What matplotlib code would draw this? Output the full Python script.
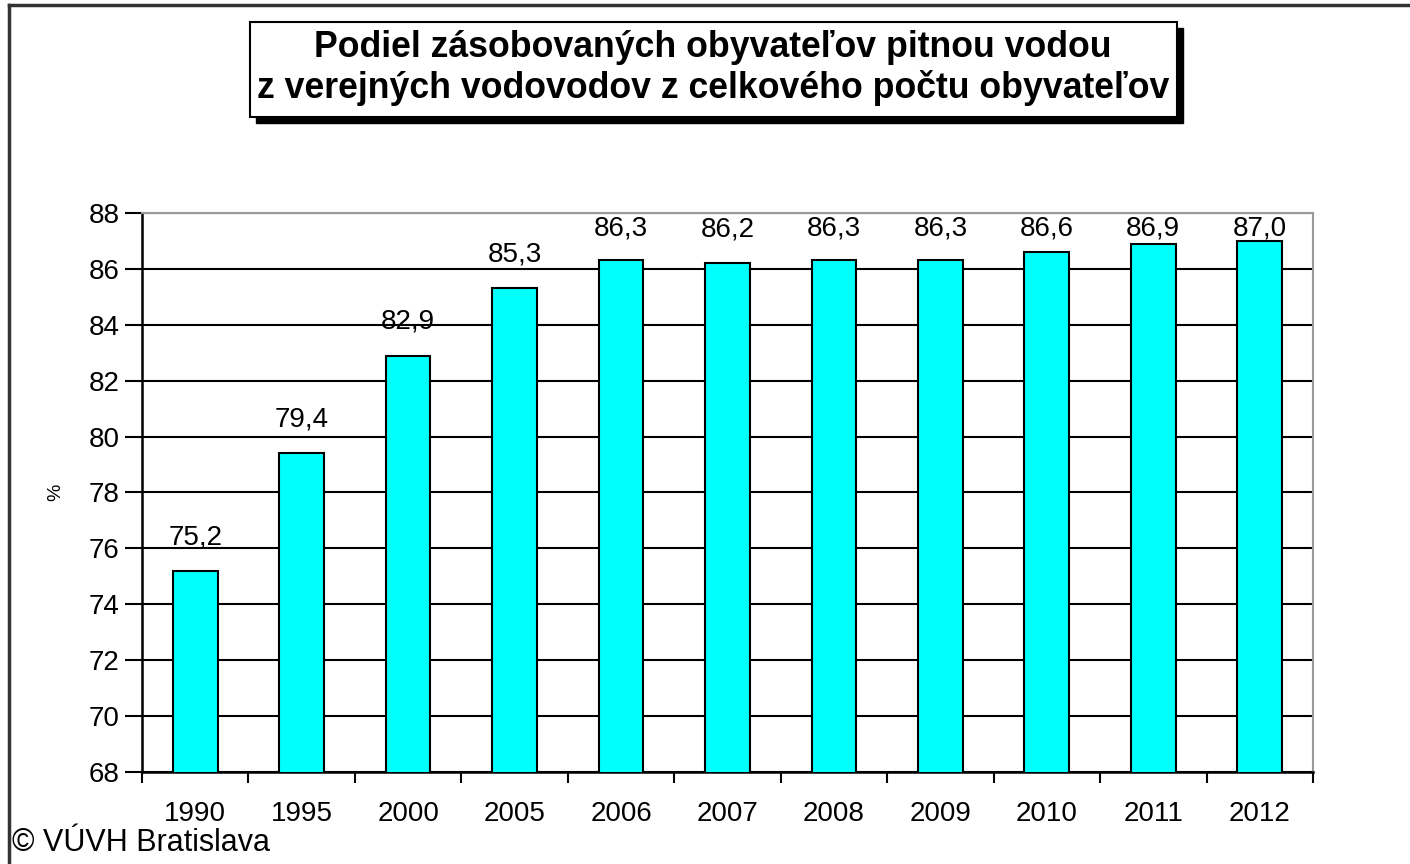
import matplotlib.pyplot as plt
from matplotlib.patches import Rectangle
from matplotlib.lines import Line2D

plt.rcParams['font.family'] = ['Liberation Sans', 'DejaVu Sans']

years = ['1990', '1995', '2000', '2005', '2006', '2007', '2008', '2009', '2010', '2011', '2012']
share = [75.2, 79.4, 82.9, 85.3, 86.3, 86.2, 86.3, 86.3, 86.6, 86.9, 87.0]
labels = ['75,2', '79,4', '82,9', '85,3', '86,3', '86,2', '86,3', '86,3', '86,6', '86,9', '87,0']
title_lines = ['Podiel zásobovaných obyvateľov pitnou vodou',
               'z verejných vodovodov z celkového počtu obyvateľov']

fig = plt.figure(figsize=(14.1, 8.64), dpi=100)
ax = fig.add_axes([0.1007, 0.1065, 0.8305, 0.647])

x = list(range(len(years)))
ax.bar(x, share, width=0.42, bottom=0, color='#00ffff', edgecolor='black', linewidth=1.5, zorder=3)
# labels sit above the bars, kept inside the plot area like Excel does
for xi, v, lab in zip(x, share, labels):
    ax.text(xi, min(v + 1.2, 87.43), lab, ha='center', va='center', fontsize=20, zorder=4, clip_on=False)

ax.set_xlim(-0.5, len(years) - 0.5)
ax.set_ylim(68, 88)
ax.set_yticks(range(68, 89, 2))
ax.set_xticks(x)
ax.set_xticklabels(years, fontsize=20)
ax.set_xticks([i - 0.5 for i in range(len(years) + 1)], minor=True)
ax.tick_params(axis='x', which='major', length=0, pad=21)
ax.tick_params(axis='x', which='minor', length=8, width=1.5, direction='out')
ax.tick_params(axis='y', labelsize=20, length=12, width=1.5, direction='out', pad=4)
ax.yaxis.grid(True, color='black', linewidth=1.5, zorder=0)
ax.set_axisbelow(True)
for s in ['left', 'bottom']:
    ax.spines[s].set_linewidth(1.8)
    ax.spines[s].set_color('black')
for s in ['top', 'right']:
    ax.spines[s].set_linewidth(1.5)
    ax.spines[s].set_color('#999999')
ax.set_ylabel('%', fontsize=14, labelpad=18)

# title box with shadow
fig.patches.append(Rectangle((0.1773 + 0.0043, 0.8646 - 0.007), 0.6574, 0.11,
                             transform=fig.transFigure, facecolor='black', edgecolor='black', zorder=1))
fig.patches.append(Rectangle((0.1773, 0.8646), 0.6574, 0.11,
                             transform=fig.transFigure, facecolor='white', edgecolor='black',
                             linewidth=1.5, zorder=2))
fig.text(0.5057, 0.9456, title_lines[0], ha='center', va='center', fontsize=25.7, fontweight='bold', zorder=3)
fig.text(0.5057, 0.898, title_lines[1], ha='center', va='center', fontsize=25.7, fontweight='bold', zorder=3)

# outer frame (top and left)
fig.lines.append(Line2D([0.0064, 1.0], [0.9942, 0.9942], transform=fig.transFigure, color='#333333', linewidth=2.5))
fig.lines.append(Line2D([0.0064, 0.0064], [0.0, 0.9942], transform=fig.transFigure, color='#333333', linewidth=2.5))

fig.text(0.0085, 0.024, '© VÚVH Bratislava', ha='left', va='center', fontsize=22)

fig.savefig('out.png', dpi=100)
